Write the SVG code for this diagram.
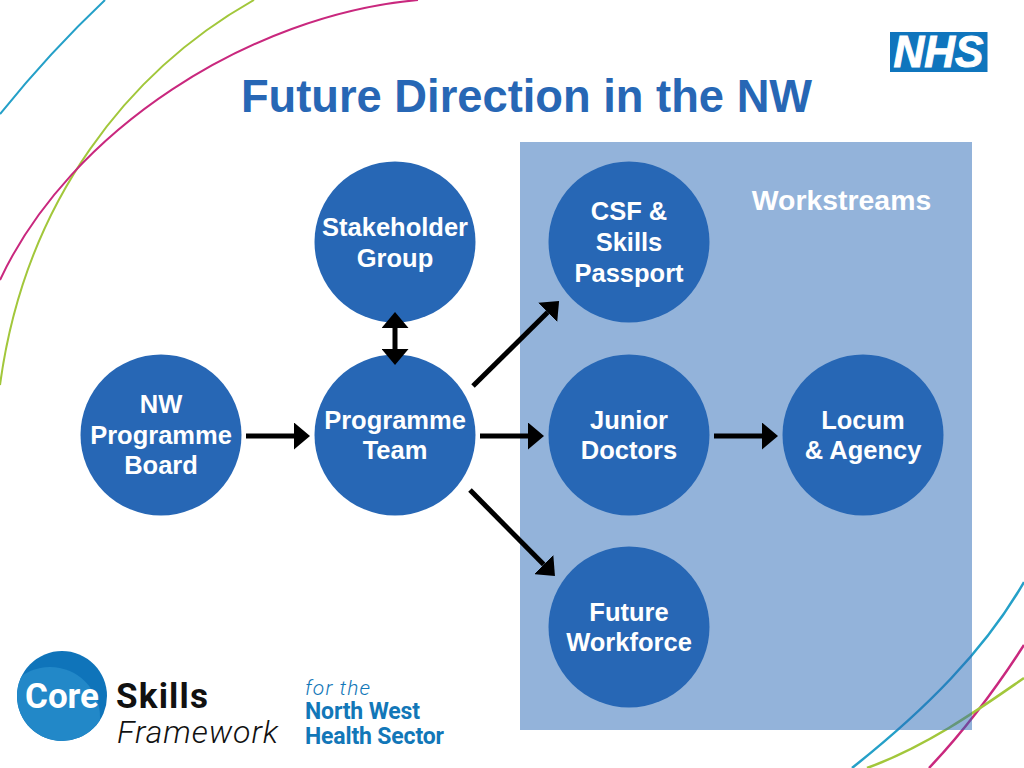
<svg xmlns="http://www.w3.org/2000/svg" width="1024" height="768" viewBox="0 0 1024 768">
<style>
text{font-family:"Liberation Sans",Arial,sans-serif}
.node{fill:#2767B5}
.lbl{fill:#fff;font-size:25.5px;font-weight:700;text-anchor:middle}
.curve{fill:none;stroke-width:2}
.thick{stroke-width:2.5}
.blue{stroke:#25A0C8}.green{stroke:#A2C73B}.mag{stroke:#C9287E}
.conn{stroke:#000;stroke-width:5;fill:none;marker-end:url(#head)}
.logo{font-family:Roboto,"Liberation Sans",sans-serif}
.lb{fill:#1277B8;font-weight:700;font-size:23px}
</style>
<defs>
<marker id="head" markerUnits="userSpaceOnUse" viewBox="0 0 16 27" refX="0" refY="13.5" markerWidth="16" markerHeight="27" orient="auto-start-reverse"><path d="M0 0L16 13.5L0 27Z" fill="#000"/></marker>
<clipPath id="coreclip"><circle cx="62" cy="696" r="45"/></clipPath>
</defs>
<rect width="1024" height="768" fill="#fff"/>
<g id="decor">
<path class="curve blue" d="M105 0Q50 52 0 114"/>
<path class="curve green" d="M254 0C130 70 25 200 0 385"/>
<path class="curve mag" d="M418 0C250 15 70 130 0 280"/>
<path class="curve thick blue" d="M1024 582C985 650 925 710 852 768"/>
<path class="curve thick mag" d="M1024 645C995 690 965 730 929 768"/>
<path class="curve thick green" d="M1024 678C985 705 930 745 867 768"/>
</g>
<rect id="workstreams" x="520" y="142" width="452" height="588" fill="#2767B5" fill-opacity=".5"/>
<text x="841.500" y="210" fill="#fff" font-size="28.400" font-weight="700" text-anchor="middle">Workstreams</text>
<text id="title" x="526.500" y="112" fill="#2767B5" font-size="45.300" font-weight="700" text-anchor="middle">Future Direction in the NW</text>
<g id="nhs-logo">
<rect x="890" y="32" width="97.500" height="40" fill="#0F75BD"/>
<text x="938.500" y="67" fill="#fff" stroke="#fff" stroke-width="1" font-size="44" font-weight="700" font-style="italic" text-anchor="middle" textLength="90" lengthAdjust="spacingAndGlyphs">NHS</text>
</g>
<g id="node-stakeholder"><circle class="node" cx="395" cy="242" r="80.500"/><text class="lbl" x="395" y="236">Stakeholder</text><text class="lbl" x="395" y="267">Group</text></g>
<g id="node-programme-team"><circle class="node" cx="395" cy="435" r="80.500"/><text class="lbl" x="395" y="429">Programme</text><text class="lbl" x="395" y="459">Team</text></g>
<g id="node-nw-board"><circle class="node" cx="161" cy="435" r="80.500"/><text class="lbl" x="161" y="413">NW</text><text class="lbl" x="161" y="444">Programme</text><text class="lbl" x="161" y="474">Board</text></g>
<g id="node-csf"><circle class="node" cx="629" cy="242" r="80.500"/><text class="lbl" x="629" y="220">CSF &amp;</text><text class="lbl" x="629" y="251">Skills</text><text class="lbl" x="629" y="282">Passport</text></g>
<g id="node-junior"><circle class="node" cx="629" cy="435" r="80.500"/><text class="lbl" x="629" y="429">Junior</text><text class="lbl" x="629" y="459">Doctors</text></g>
<g id="node-future"><circle class="node" cx="629" cy="627" r="80.500"/><text class="lbl" x="629" y="621">Future</text><text class="lbl" x="629" y="651">Workforce</text></g>
<g id="node-locum"><circle class="node" cx="863" cy="435" r="80.500"/><text class="lbl" x="863" y="429">Locum</text><text class="lbl" x="863" y="459">&amp; Agency</text></g>
<g id="connectors">
<path class="conn" d="M246 436H294"/>
<path class="conn" d="M480 436H528"/>
<path class="conn" d="M714 436H762"/>
<path class="conn" style="marker-start:url(#head)" d="M395 328V349"/>
<path class="conn" d="M473 386L547.700 312.300"/>
<path class="conn" d="M470 490L543.700 564.600"/>
</g>
<g id="core-logo">
<circle cx="62" cy="696" r="45" fill="#0F74BA"/>
<circle cx="50" cy="717" r="50" fill="#2288C8" clip-path="url(#coreclip)"/>
<text class="logo" x="25" y="708" fill="#fff" font-size="35" font-weight="700" textLength="74">Core</text>
<text class="logo" x="116" y="708" fill="#111" font-size="35" font-weight="700" textLength="92">Skills</text>
<text class="logo" x="117" y="743" fill="#111" font-size="32" font-style="italic" font-weight="300" textLength="161">Framework</text>
<text class="logo" x="305" y="695" fill="#1277B8" font-size="21" font-style="italic" font-weight="300" textLength="65">for the</text>
<text class="logo lb" x="305" y="719" textLength="115">North West</text>
<text class="logo lb" x="305" y="744" textLength="139">Health Sector</text>
</g>
</svg>
